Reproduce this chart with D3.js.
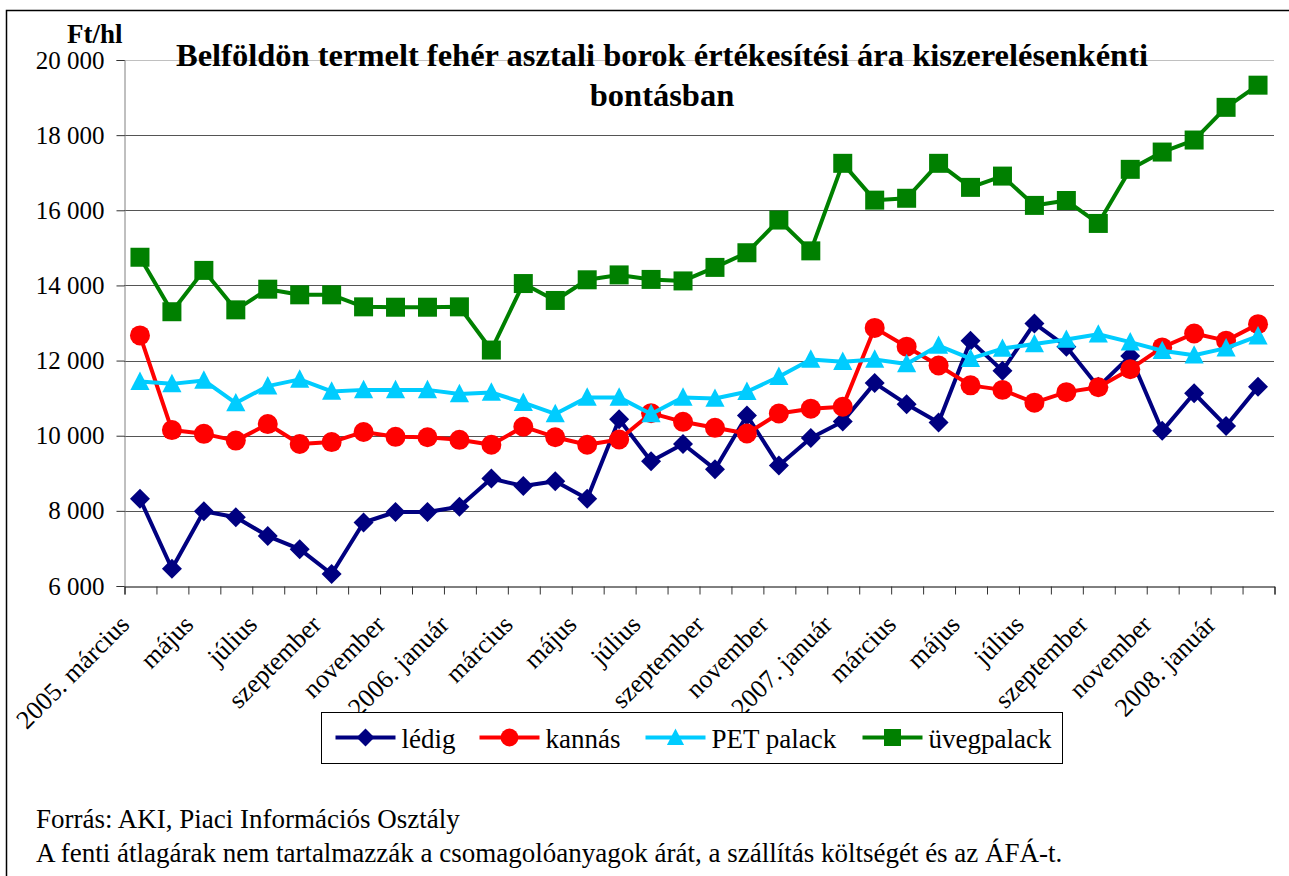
<!DOCTYPE html>
<html lang="hu">
<head>
<meta charset="UTF-8">
<title>Fehér asztali borok értékesítési ára</title>
<script src="https://cdn.jsdelivr.net/npm/d3@7"></script>
<style>
    body { margin: 0; background: #fff; }
    svg text { fill: #000; }
</style>
</head>
<body>
<script>
    // havi kategóriák 2005. március - 2008. február
    const months = [
        '2005. március', 'április', 'május', 'június', 'július', 'augusztus', 'szeptember', 'október', 'november', 'december',
        '2006. január', 'február', 'március', 'április', 'május', 'június', 'július', 'augusztus', 'szeptember', 'október', 'november', 'december',
        '2007. január', 'február', 'március', 'április', 'május', 'június', 'július', 'augusztus', 'szeptember', 'október', 'november', 'december',
        '2008. január', 'február'
    ];

    // Ft/hl
    const ledig = [8320, 6460, 7990, 7830, 7330, 6980, 6320, 7690, 7970, 7970, 8110, 8860, 8660, 8790, 8320, 10440, 9320, 9780,
        9110, 10540, 9210, 9940, 10380, 11400, 10840, 10350, 12530, 11730, 12990, 12370, 11300, 12120, 10130, 11130, 10260, 11300];
    const kannas = [12670, 10150, 10050, 9870, 10310, 9780, 9830, 10100, 9970, 9960, 9890, 9760, 10240, 9960, 9760, 9900, 10600, 10370,
        10210, 10060, 10590, 10720, 10770, 12870, 12370, 11870, 11340, 11220, 10880, 11160, 11290, 11770, 12350, 12720, 12530, 12970];
    const pet = [11440, 11380, 11470, 10870, 11320, 11500, 11180, 11220, 11220, 11220, 11110, 11150, 10880, 10580, 11020, 11020, 10580, 11020,
        10990, 11170, 11570, 12030, 11970, 12030, 11910, 12400, 12050, 12320, 12440, 12560, 12700, 12490, 12260, 12140, 12330, 12650];
    const uveg = [14750, 13300, 14400, 13350, 13900, 13750, 13750, 13430, 13420, 13420, 13430, 12280, 14050, 13600, 14150, 14280, 14160, 14120,
        14480, 14870, 15740, 14920, 17250, 16270, 16320, 17250, 16610, 16910, 16130, 16260, 15650, 17090, 17550, 17870, 18740, 19330];

    const seriesNames = ['lédig', 'kannás', 'PET palack', 'üvegpalack'];
    const yTicks = [6000, 8000, 10000, 12000, 14000, 16000, 18000, 20000];

    const title = ['Belföldön termelt fehér asztali borok értékesítési ára kiszerelésenkénti', 'bontásban'];
    const notes = ['Forrás: AKI, Piaci Információs Osztály',
        'A fenti átlagárak nem tartalmazzák a csomagolóanyagok árát, a szállítás költségét és az ÁFÁ-t.'];

    const serif = '"Liberation Serif", "Times New Roman", serif';

    // triangle marker a bit wider than equilateral like in Excel
    const triangle = {
        draw(ctx, size) {
            const s = Math.sqrt(size);
            ctx.moveTo(0, -s * 0.55);
            ctx.lineTo(s * 0.52, s * 0.45);
            ctx.lineTo(-s * 0.52, s * 0.45);
            ctx.closePath();
        }
    };
    const diamond = {
        draw(ctx, size) {
            const r = Math.sqrt(size) / 2;
            ctx.moveTo(0, -r);
            ctx.lineTo(r, 0);
            ctx.lineTo(0, r);
            ctx.lineTo(-r, 0);
            ctx.closePath();
        }
    };

    const series = [
        { name: seriesNames[0], values: ledig, color: '#000080', symbol: diamond, size: 400 },
        { name: seriesNames[1], values: kannas, color: '#ff0000', symbol: d3.symbolCircle, size: 314 },
        { name: seriesNames[2], values: pet, color: '#00ccff', symbol: triangle, size: 340 },
        { name: seriesNames[3], values: uveg, color: '#008000', symbol: d3.symbolSquare, size: 361 }
    ];

    const W = 1289, H = 876;
    const margin = { top: 60, left: 124 };
    const width = 1150, height = 526;

    const svg = d3.select('body').append('svg')
        .attr('width', W)
        .attr('height', H)
        .style('font-family', serif);

    // outer frame (runs off the bottom / right)
    svg.append('rect')
        .attr('x', 6.5).attr('y', 10.5)
        .attr('width', W + 20).attr('height', H + 20)
        .attr('fill', 'none')
        .attr('stroke', '#000')
        .attr('stroke-width', 1.5);

    const g = svg.append('g')
        .attr('transform', `translate(${margin.left},${margin.top})`);

    const x = d3.scaleBand()
        .domain(d3.range(months.length))
        .range([0, width]);

    const xEdge = d3.scaleLinear()
        .domain([0, months.length])
        .range([0, width]);

    const y = d3.scaleLinear()
        .domain([6000, 20000])
        .range([height, 0]);

    const cx = i => x(i) + x.bandwidth() / 2;

    // title (grid line runs over it)
    svg.selectAll('.title')
        .data(title)
        .enter().append('text')
        .attr('class', 'title')
        .attr('x', 662)
        .attr('y', (d, i) => 66 + i * 40)
        .attr('text-anchor', 'middle')
        .style('font-family', serif)
        .style('font-size', '32.5px')
        .style('font-weight', 'bold')
        .text(d => d);

    // gridlines
    g.append('g')
        .selectAll('line')
        .data(yTicks.slice(1))
        .enter().append('line')
        .attr('x1', 0)
        .attr('x2', width)
        .attr('y1', d => Math.round(y(d)) + 0.5)
        .attr('y2', d => Math.round(y(d)) + 0.5)
        .attr('stroke', d => d === 20000 ? '#c0c0c0' : '#555')
        .attr('stroke-width', 1);

    // y axis
    const yAxis = g.append('g')
        .attr('transform', 'translate(0.5,0)')
        .call(d3.axisLeft(y)
            .tickValues(yTicks)
            .tickSize(8)
            .tickPadding(12)
            .tickFormat(d => d3.format(',')(d).replace(',', ' ')));
    yAxis.select('.domain').attr('stroke', '#808080');
    yAxis.selectAll('.tick line').attr('stroke', '#333');
    yAxis.selectAll('text')
        .style('font-family', serif)
        .style('font-size', '25px');

    // x axis: ticks at month boundaries
    const xAxis = g.append('g')
        .attr('transform', `translate(0.5,${height + 0.5})`)
        .call(d3.axisBottom(xEdge)
            .tickValues(d3.range(months.length + 1))
            .tickSize(8)
            .tickFormat(''));
    xAxis.select('.domain').attr('stroke', '#000');
    xAxis.selectAll('.tick line').attr('stroke', '#333');

    // every second month label, rotated
    g.append('g')
        .selectAll('text')
        .data(months.map((m, i) => ({ m, i })).filter(d => d.i % 2 === 0))
        .enter().append('text')
        .attr('transform', d => `translate(${cx(d.i) - 9},${height + 40}) rotate(-45)`)
        .attr('text-anchor', 'end')
        .style('font-family', serif)
        .style('font-size', '26px')
        .text(d => d.m);

    // unit label
    svg.append('text')
        .attr('x', 67)
        .attr('y', 43)
        .style('font-family', serif)
        .style('font-size', '27px')
        .style('font-weight', 'bold')
        .text('Ft/hl');

    // series: line then markers
    const line = d3.line()
        .x((d, i) => cx(i))
        .y(d => y(d));

    const sg = g.selectAll('.series')
        .data(series)
        .enter().append('g')
        .attr('class', 'series');

    sg.append('path')
        .attr('d', d => line(d.values))
        .attr('fill', 'none')
        .attr('stroke', d => d.color)
        .attr('stroke-width', 4)
        .attr('stroke-linejoin', 'round');

    sg.each(function (s) {
        d3.select(this).selectAll('.marker')
            .data(s.values)
            .enter().append('path')
            .attr('class', 'marker')
            .attr('transform', (d, i) => `translate(${cx(i)},${y(d)})`)
            .attr('d', d3.symbol().type(s.symbol).size(s.size))
            .attr('fill', s.color);
    });

    // legend
    const legend = svg.append('g')
        .attr('transform', 'translate(321.5,712.5)');

    legend.append('rect')
        .attr('width', 741)
        .attr('height', 51)
        .attr('fill', '#fff')
        .attr('stroke', '#000')
        .attr('stroke-width', 1);

    const legendX = [14, 158, 324, 541];

    const item = legend.selectAll('.legend-item')
        .data(series)
        .enter().append('g')
        .attr('class', 'legend-item')
        .attr('transform', (d, i) => `translate(${legendX[i]},25)`);

    item.append('line')
        .attr('x1', 0).attr('x2', 60)
        .attr('stroke', d => d.color)
        .attr('stroke-width', 4);

    item.append('path')
        .attr('transform', 'translate(30,0)')
        .attr('d', d => d3.symbol().type(d.symbol).size(d.size * 0.8)())
        .attr('fill', d => d.color);

    item.append('text')
        .attr('x', 66)
        .attr('y', 10)
        .style('font-family', serif)
        .style('font-size', '27px')
        .text(d => d.name);

    // source notes
    svg.selectAll('.note')
        .data(notes)
        .enter().append('text')
        .attr('class', 'note')
        .attr('x', 36)
        .attr('y', (d, i) => 828 + i * 34)
        .style('font-family', serif)
        .style('font-size', '27px')
        .text(d => d);
</script>
</body>
</html>
